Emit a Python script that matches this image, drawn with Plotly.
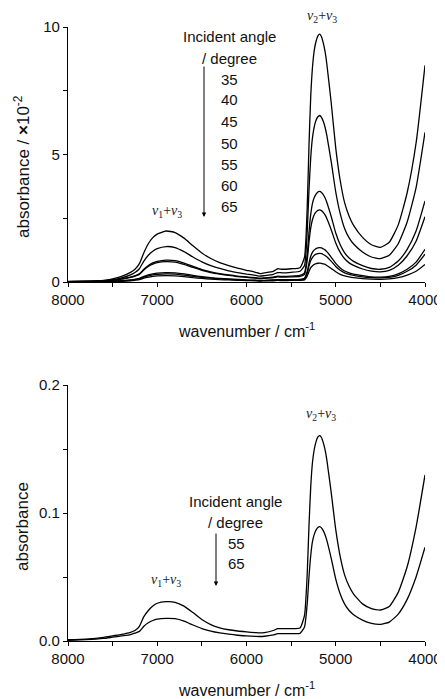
import plotly.graph_objects as go

# ---------------- data ----------------
wavenumber = [8000, 7800, 7600, 7500, 7400, 7300, 7250, 7200, 7150, 7100,
              7050, 7000, 6900, 6800, 6700, 6600, 6500, 6400, 6300, 6200,
              6100, 6000, 5900, 5850, 5800, 5700, 5650, 5600, 5500, 5400,
              5350, 5320, 5300, 5280, 5260, 5240, 5220, 5200, 5180, 5160,
              5140, 5120, 5100, 5050, 5000, 4950, 4900, 4850, 4800, 4700,
              4600, 4500, 4400, 4300, 4200, 4100, 4000]

# top panel, absorbance x10^-2, incident angles 35..65 degree
abs_35 = [0.02, 0.03, 0.06, 0.12, 0.22, 0.38, 0.50, 0.72, 1.15, 1.50,
          1.74, 1.88, 2.00, 1.94, 1.72, 1.42, 1.14, 0.92, 0.76, 0.64,
          0.54, 0.46, 0.38, 0.33, 0.36, 0.42, 0.52, 0.50, 0.52, 0.56,
          0.97, 2.90, 5.35, 7.30, 8.45, 9.10, 9.45, 9.65, 9.72, 9.62,
          9.38, 9.04, 8.55, 7.00, 5.25, 3.98, 3.10, 2.58, 2.22, 1.75,
          1.46, 1.36, 1.56, 2.24, 3.50, 5.45, 8.50]
abs_40 = [0.01, 0.02, 0.05, 0.09, 0.16, 0.28, 0.37, 0.52, 0.82, 1.05,
          1.21, 1.31, 1.39, 1.35, 1.19, 0.98, 0.79, 0.64, 0.53, 0.44,
          0.37, 0.31, 0.26, 0.23, 0.25, 0.30, 0.37, 0.36, 0.38, 0.42,
          0.65, 1.96, 3.60, 4.90, 5.68, 6.10, 6.35, 6.48, 6.53, 6.46,
          6.30, 6.07, 5.75, 4.70, 3.53, 2.68, 2.09, 1.73, 1.49, 1.18,
          0.98, 0.92, 1.05, 1.50, 2.35, 3.70, 5.87]
abs_45 = [0.01, 0.02, 0.04, 0.07, 0.12, 0.19, 0.24, 0.32, 0.50, 0.65,
          0.75, 0.81, 0.86, 0.84, 0.74, 0.61, 0.49, 0.40, 0.33, 0.28,
          0.23, 0.20, 0.17, 0.15, 0.16, 0.19, 0.23, 0.22, 0.23, 0.26,
          0.36, 1.07, 1.95, 2.66, 3.09, 3.32, 3.45, 3.53, 3.55, 3.51,
          3.43, 3.30, 3.12, 2.56, 1.92, 1.46, 1.14, 0.94, 0.81, 0.64,
          0.53, 0.50, 0.57, 0.82, 1.28, 2.00, 3.18]
abs_50 = [0.01, 0.02, 0.04, 0.07, 0.11, 0.18, 0.23, 0.30, 0.47, 0.61,
          0.70, 0.76, 0.80, 0.78, 0.69, 0.57, 0.46, 0.37, 0.31, 0.26,
          0.21, 0.18, 0.15, 0.13, 0.14, 0.17, 0.20, 0.19, 0.20, 0.22,
          0.30, 0.85, 1.56, 2.12, 2.46, 2.65, 2.75, 2.81, 2.83, 2.80,
          2.73, 2.63, 2.49, 2.04, 1.53, 1.16, 0.91, 0.75, 0.65, 0.51,
          0.43, 0.40, 0.46, 0.66, 1.03, 1.60, 2.56]
abs_55 = [0.00, 0.01, 0.02, 0.03, 0.05, 0.08, 0.11, 0.14, 0.22, 0.28,
          0.32, 0.35, 0.37, 0.36, 0.32, 0.26, 0.21, 0.17, 0.14, 0.12,
          0.10, 0.08, 0.07, 0.06, 0.065, 0.08, 0.09, 0.09, 0.09, 0.10,
          0.15, 0.41, 0.74, 1.01, 1.17, 1.26, 1.31, 1.34, 1.35, 1.34,
          1.30, 1.26, 1.19, 0.97, 0.73, 0.55, 0.43, 0.36, 0.31, 0.25,
          0.20, 0.19, 0.22, 0.32, 0.50, 0.78, 1.28]
abs_60 = [0.00, 0.01, 0.02, 0.03, 0.04, 0.07, 0.09, 0.12, 0.19, 0.24,
          0.28, 0.30, 0.32, 0.31, 0.27, 0.22, 0.18, 0.15, 0.12, 0.10,
          0.085, 0.07, 0.06, 0.05, 0.055, 0.07, 0.08, 0.075, 0.08, 0.085,
          0.12, 0.34, 0.62, 0.84, 0.97, 1.05, 1.09, 1.11, 1.12, 1.11,
          1.08, 1.04, 0.99, 0.81, 0.61, 0.46, 0.36, 0.30, 0.26, 0.20,
          0.17, 0.16, 0.18, 0.26, 0.42, 0.66, 1.09]
abs_65 = [0.00, 0.00, 0.01, 0.02, 0.03, 0.05, 0.07, 0.09, 0.15, 0.19,
          0.22, 0.24, 0.25, 0.24, 0.21, 0.17, 0.14, 0.11, 0.09, 0.08,
          0.065, 0.055, 0.045, 0.04, 0.045, 0.05, 0.06, 0.055, 0.06, 0.065,
          0.085, 0.23, 0.41, 0.56, 0.64, 0.69, 0.72, 0.735, 0.74, 0.73,
          0.71, 0.69, 0.65, 0.53, 0.40, 0.30, 0.24, 0.20, 0.17, 0.13,
          0.11, 0.105, 0.12, 0.17, 0.27, 0.42, 0.69]

# bottom panel, absorbance, incident angles 55 and 65 degree
abs_b55 = [0.001, 0.0015, 0.0028, 0.004, 0.0052, 0.0068, 0.0082, 0.0115, 0.019, 0.0238,
           0.0273, 0.0295, 0.0307, 0.0302, 0.0272, 0.0222, 0.0168, 0.0128, 0.0103, 0.0088,
           0.0078, 0.0071, 0.0065, 0.0063, 0.0066, 0.0082, 0.0096, 0.0096, 0.0097, 0.0102,
           0.020, 0.052, 0.090, 0.121, 0.140, 0.150, 0.156, 0.1595, 0.1605, 0.159,
           0.155, 0.1495, 0.1415, 0.1155, 0.087, 0.066, 0.0515, 0.0427, 0.0367, 0.029,
           0.0253, 0.0242, 0.027, 0.038, 0.058, 0.089, 0.1297]
abs_b65 = [0.0005, 0.001, 0.002, 0.003, 0.004, 0.005, 0.0062, 0.0075, 0.0115, 0.0142,
           0.016, 0.0171, 0.0177, 0.0174, 0.0155, 0.0125, 0.0097, 0.0077, 0.0063, 0.0053,
           0.0045, 0.004, 0.0036, 0.0035, 0.0037, 0.0048, 0.0058, 0.0057, 0.0058, 0.006,
           0.011, 0.029, 0.050, 0.067, 0.078, 0.0835, 0.0868, 0.0887, 0.0893, 0.0884,
           0.0862, 0.083, 0.0786, 0.0643, 0.0484, 0.0368, 0.0288, 0.0238, 0.0205, 0.0163,
           0.0138, 0.013, 0.0148, 0.021, 0.0325, 0.050, 0.0732]

top_angles = ["35", "40", "45", "50", "55", "60", "65"]
bottom_angles = ["55", "65"]
top_series = [abs_35, abs_40, abs_45, abs_50, abs_55, abs_60, abs_65]
bottom_series = [abs_b55, abs_b65]

x_ticks = [8000, 7000, 6000, 5000, 4000]

# ---------------- figure ----------------
# the page body has an 8 px margin, so the figure is made smaller and all
# positions below are given in window pixels and shifted by that margin
OFF = 8
W, H = 445 - OFF, 699 - OFF


def px(x):
    return (x - OFF) / W


def py(y):
    return 1 - (y - OFF) / H


fig = go.Figure()
line_style = dict(color="black", width=1.3, shape="spline", smoothing=0.5)
for ang, vals in zip(top_angles, top_series):
    fig.add_trace(go.Scatter(x=wavenumber, y=vals, mode="lines", name=ang,
                             line=line_style, xaxis="x", yaxis="y",
                             showlegend=False, hoverinfo="skip"))
for ang, vals in zip(bottom_angles, bottom_series):
    fig.add_trace(go.Scatter(x=wavenumber, y=vals, mode="lines", name=ang,
                             line=line_style, xaxis="x2", yaxis="y2",
                             showlegend=False, hoverinfo="skip"))

tickfont = dict(family="Liberation Sans, Arial, sans-serif", size=15, color="#111")
common_axis = dict(showline=True, linecolor="black", linewidth=1.2, showgrid=False,
                   zeroline=False, ticks="outside", ticklen=4, tickwidth=1,
                   tickcolor="black", tickfont=tickfont, automargin=False)
xcommon = dict(common_axis, range=[8000, 4000], tickmode="array", tickvals=x_ticks,
               minor=dict(ticks="outside", ticklen=4, tickcolor="black",
                          tickmode="array", tickvals=[7500, 6500, 5500, 4500]),
               domain=[px(68), px(425)])

fig.update_layout(
    width=W, height=H,
    margin=dict(l=0, r=0, t=0, b=0, autoexpand=False),
    paper_bgcolor="white", plot_bgcolor="white",
    font=dict(family="Liberation Sans, Arial, sans-serif", size=15, color="#111"),
    xaxis=dict(xcommon, anchor="y"),
    xaxis2=dict(xcommon, anchor="y2"),
    yaxis=dict(common_axis, range=[0, 10], tickmode="array", tickvals=[0, 5, 10],
               minor=dict(ticks="outside", ticklen=4, tickcolor="black",
                          tickmode="array", tickvals=[2.5, 7.5]),
               domain=[py(282), py(27)], anchor="x"),
    yaxis2=dict(common_axis, range=[0, 0.2], tickmode="array", tickvals=[0, 0.1, 0.2],
                ticktext=["0.0", "0.1", "0.2"],
                minor=dict(ticks="outside", ticklen=4, tickcolor="black",
                           tickmode="array", tickvals=[0.05, 0.15]),
                domain=[py(641), py(385)], anchor="x2"),
)

SANS = "Liberation Sans, Arial, sans-serif"
SERIF = "Liberation Serif, Times New Roman, serif"


def text(x, y, s, size=15, family=SANS, color="#111", angle=0):
    fig.add_annotation(x=px(x), y=py(y), xref="paper", yref="paper", text=s,
                       showarrow=False, xanchor="center", yanchor="middle",
                       font=dict(family=family, size=size, color=color),
                       textangle=angle)


def arrow(x, y0, y1):
    fig.add_annotation(x=px(x), y=py(y1), xref="paper", yref="paper", text="",
                       showarrow=True, ax=0, ay=-(y1 - y0), arrowhead=2,
                       arrowsize=0.9, arrowwidth=1, arrowcolor="black",
                       font=dict(size=10))


# axis titles
text(22, 167, "absorbance / <b>×</b>10<sup>-2</sup>", size=17, angle=-90)
text(246, 330, "wavenumber / cm<sup>-1</sup>", size=16)
text(22, 527, "absorbance", size=17, angle=-90)
text(246, 689, "wavenumber / cm<sup>-1</sup>", size=16)

# top legend-like text block
text(229, 37, "Incident angle")
text(229, 58, "/ degree")
top_label_y = [80, 100, 122, 143, 164, 185, 206]
for ang, yy in zip(top_angles, top_label_y):
    text(229, yy, ang)
arrow(204, 65, 217)

# bottom legend-like text block
text(235, 501, "Incident angle")
text(235, 522, "/ degree")
for ang, yy in zip(bottom_angles, [543, 563]):
    text(236, yy, ang)
arrow(216, 532, 586)

# band labels
nu23 = "<i>ν</i><sub>2</sub>+<i>ν</i><sub>3</sub>"
nu13 = "<i>ν</i><sub>1</sub>+<i>ν</i><sub>3</sub>"
text(322, 16, nu23, size=14, family=SERIF, color="#222")
text(167, 212, nu13, size=14, family=SERIF, color="#222")
text(321, 414, nu23, size=14, family=SERIF, color="#222")
text(166, 580, nu13, size=14, family=SERIF, color="#222")

fig.write_html("out.html")
